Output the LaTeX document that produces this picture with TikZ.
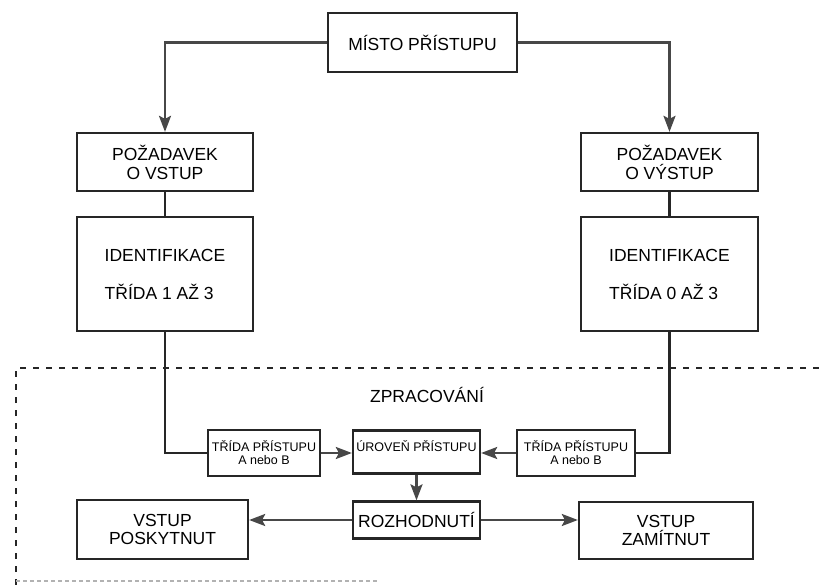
\documentclass[tikz,border=0pt]{standalone}
\usepackage{fontspec}
\setmainfont{Liberation Sans}
\usetikzlibrary{arrows.meta}
\begin{document}
\begin{tikzpicture}[x=1pt,y=-1pt,
  box/.style={draw=black!85, line width=2.3pt, inner sep=0pt, align=center,
    font=\fontsize{17.5}{19}\selectfont},
  smallbox/.style={draw=black!85, line width=2.3pt, inner sep=0pt, align=center,
    font=\fontsize{12.5}{13}\selectfont},
  conn/.style={line width=2.3pt, draw=black!85},
  arr/.style={conn, -{Stealth[length=16pt,width=12pt,inset=3pt]}, color=black!72},
  zone/.style={line width=2.6pt, dash pattern=on 6pt off 7pt, draw=black!85}
]
\useasboundingbox (0,0) rectangle (825,585);

% processing zone
\draw[zone] (16,585) -- (16,368) -- (825,368);
\draw[line width=1.5pt, draw=black!30, dash pattern=on 4pt off 3pt] (16,581) -- (378,581);
\node[font=\fontsize{17.5}{19}\selectfont] (zprac) at (427,395) {ZPRACOVÁNÍ};

% nodes
\node[box, minimum width=189pt, minimum height=59pt] (misto) at (422.5,42.5) {MÍSTO PŘÍSTUPU};
\node[box, minimum width=176pt, minimum height=58pt] (pozL) at (165,162) {POŽADAVEK\\O VSTUP};
\node[box, minimum width=177pt, minimum height=58pt] (pozR) at (669.5,162) {POŽADAVEK\\O VÝSTUP};
\node[box, minimum width=176pt, minimum height=114pt, align=left,
  font=\fontsize{17.5}{38}\selectfont] (identL) at (165,274) {IDENTIFIKACE\\TŘÍDA 1 AŽ 3};
\node[box, minimum width=177pt, minimum height=114pt, align=left,
  font=\fontsize{17.5}{38}\selectfont] (identR) at (669.5,274) {IDENTIFIKACE\\TŘÍDA 0 AŽ 3};
\node[smallbox, minimum width=112pt, minimum height=46pt] (tridaL) at (264,453) {TŘÍDA PŘÍSTUPU\\A nebo B};
\node[smallbox, minimum width=118pt, minimum height=46pt] (tridaR) at (576,453) {TŘÍDA PŘÍSTUPU\\A nebo B};
\node[smallbox, minimum width=127pt, minimum height=43pt] (uroven) at (416.5,452) {ÚROVEŇ PŘÍSTUPU\\[-2pt]\mbox{}};
\node[box, minimum width=127pt, minimum height=37pt] (rozh) at (416.5,520) {ROZHODNUTÍ};
\node[box, minimum width=171pt, minimum height=59pt, font=\fontsize{17.5}{18}\selectfont] (poskyt) at (162.5,529.5) {VSTUP\\POSKYTNUT};
\node[box, minimum width=174pt, minimum height=57pt, font=\fontsize{17.5}{18}\selectfont] (zamit) at (666,530.5) {VSTUP\\ZAMÍTNUT};

% connectors
\draw[arr] (misto.west) -| (pozL.north);
\draw[arr] (misto.east) -| (pozR.north);
\draw[conn] (pozL.south) -- (identL.north);
\draw[conn] (pozR.south) -- (identR.north);
\draw[conn] (identL.south) |- (tridaL.west);
\draw[conn] (identR.south) |- (tridaR.east);
\draw[arr] (tridaL.east) -- (tridaL.east -| uroven.west);
\draw[arr] (tridaR.west) -- (tridaR.west -| uroven.east);
\draw[arr] (uroven.south) -- (rozh.north);
\draw[arr] (rozh.west) -- (rozh.west -| poskyt.east);
\draw[arr] (rozh.east) -- (rozh.east -| zamit.west);
\end{tikzpicture}
\end{document}
